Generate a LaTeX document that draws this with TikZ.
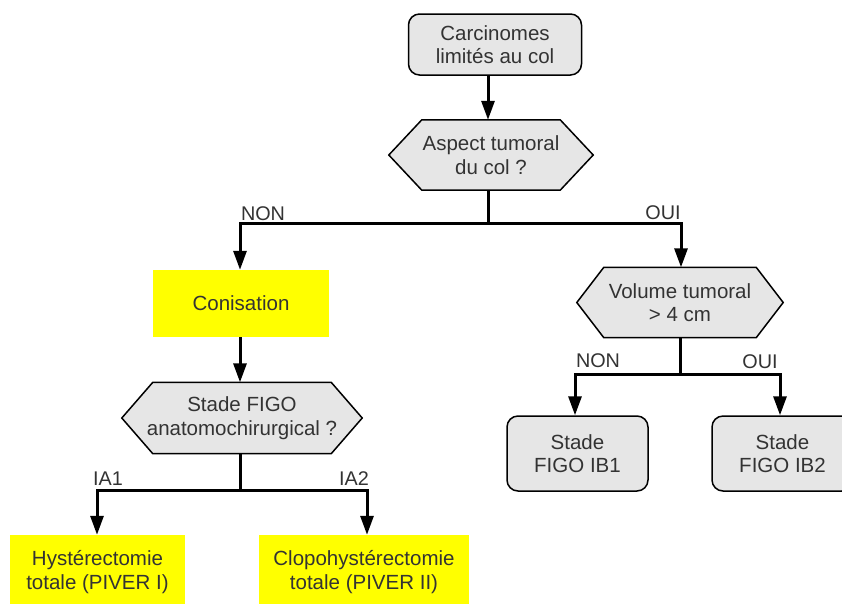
\documentclass[tikz,border=0pt]{standalone}
\usepackage{fontspec}
\setmainfont{Liberation Sans}
\usetikzlibrary{arrows.meta}
\pgfdeclarelayer{bg}
\pgfsetlayers{bg,main}
\definecolor{boxgray}{HTML}{E6E6E6}
\definecolor{txt}{HTML}{333333}
\definecolor{ylw}{HTML}{FFFF00}
\tikzset{
  base/.style={align=center, text=txt, inner sep=0pt, font=\fontsize{20.5}{23.5}\selectfont},
  roundbox/.style={base, draw=black, line width=1.5pt, fill=boxgray, rounded corners=11pt},
  yellowbox/.style={base, fill=ylw},
  hexnode/.style={base},
  hexdraw/.style={draw=black, line width=1.5pt, fill=boxgray, line join=miter},
  conn/.style={line width=3pt, draw=black},
  arr/.style={conn, -{Triangle[width=13pt,length=19pt]}},
  lbl/.style={text=txt, inner sep=0pt, font=\fontsize{19.8}{22}\selectfont},
}
\newcommand{\hexagon}[2]{%
  \begin{pgfonlayer}{bg}
  \draw[hexdraw] (#1.west) -- ([xshift=#2]#1.north west) -- ([xshift=-#2]#1.north east) -- (#1.east) -- ([xshift=-#2]#1.south east) -- ([xshift=#2]#1.south west) -- cycle;
  \end{pgfonlayer}}
\begin{document}
\begin{tikzpicture}[x=1pt,y=-1pt]
\useasboundingbox (0,0) rectangle (842,603);
\clip (0,0) rectangle (842,603);
% nodes
\node[roundbox, minimum width=173pt, minimum height=61pt] (top) at (495,44.5) {Carcinomes\\limités au col};
\node[hexnode, minimum width=204pt, minimum height=70pt] (h1) at (491,155) {Aspect tumoral\\du col ?};
\hexagon{h1}{33pt}
\node[yellowbox, minimum width=176pt, minimum height=67pt] (con) at (241,303.5) {Conisation};
\node[hexnode, minimum width=240pt, minimum height=71pt] (h2) at (242,418) {Stade FIGO\\anatomochirurgical ?};
\hexagon{h2}{31pt}
\node[yellowbox, minimum width=175pt, minimum height=74pt] (hyst) at (97.5,572) {Hystérectomie\\totale (PIVER I)};
\node[yellowbox, minimum width=210pt, minimum height=74pt] (clop) at (364,572) {Clopohystérectomie\\totale (PIVER II)};
\node[hexnode, minimum width=206pt, minimum height=70pt] (h3) at (680,302.5) {Volume tumoral\\> 4 cm};
\hexagon{h3}{27pt}
\node[roundbox, minimum width=141pt, minimum height=75pt] (ib1) at (577.5,453.5) {Stade\\FIGO IB1};
\node[roundbox, minimum width=141pt, minimum height=75pt] (ib2) at (782.5,453.5) {Stade\\FIGO IB2};
% branch coordinates
\coordinate (j1) at (488,223);
\coordinate (j2) at (240,490);
\coordinate (j3) at (680,374);
% connectors
\draw[arr] (top.south -| j1) -- (h1.north -| j1);
\draw[conn] (h1.south -| j1) -- (j1);
\draw[arr] (j1) -| (con.north -| 240,0);
\draw[arr] (j1) -| (h3.north -| 681,0);
\draw[arr] (con.south -| 240,0) -- (h2.north -| 240,0);
\draw[conn] (h2.south -| j2) -- (j2);
\draw[arr] (j2) -| (hyst.north -| 97,0);
\draw[arr] (j2) -| (clop.north -| 367,0);
\draw[conn] (h3.south -| j3) -- (j3);
\draw[arr] (j3) -| (ib1.north -| 575,0);
\draw[arr] (j3) -| (ib2.north -| 780,0);
% labels
\node[lbl] (lnon1) at (263,214) {NON};
\node[lbl] (loui1) at (663,213) {OUI};
\node[lbl] (lia1) at (108,478.5) {IA1};
\node[lbl] (lia2) at (354,478.5) {IA2};
\node[lbl] (lnon2) at (598,361) {NON};
\node[lbl] (loui2) at (760,362) {OUI};
\end{tikzpicture}
\end{document}
